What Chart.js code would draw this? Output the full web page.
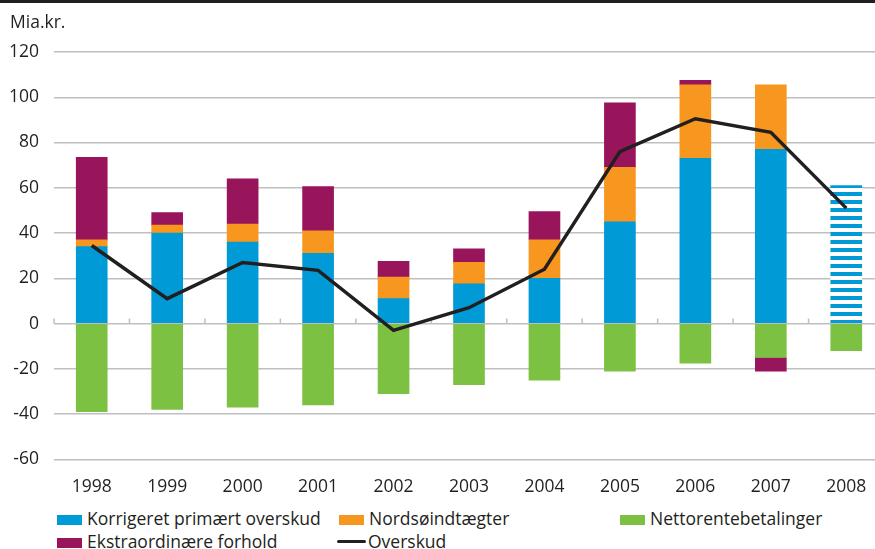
<!DOCTYPE html>
<html lang="da">
<head>
<meta charset="utf-8">
<title>Overskud på de offentlige finanser</title>
<script src="https://cdn.jsdelivr.net/npm/chart.js@4/dist/chart.umd.min.js"></script>
<style>
  html, body { margin: 0; padding: 0; background: #fff; overflow: hidden; }
  body { width: 875px; height: 549px; position: relative; font-family: 'Open Sans', sans-serif; color: #231f20; }
  .top-rule { position: absolute; left: 0; top: 0; width: 875px; height: 3px; background: #231f20; }
  .unit { position: absolute; left: 10px; top: 9px; font-size: 17.5px; line-height: 24px; }
  .chart-wrap { position: absolute; left: 0; top: 0; width: 884px; height: 505px; }
  .legend-item { position: absolute; font-size: 17.5px; line-height: 24px; white-space: nowrap; }
  .legend-swatch { position: absolute; width: 25px; height: 10px; }
  .legend-rule { position: absolute; width: 29px; height: 3px; background: #231f20; border-radius: 2px; }
</style>
</head>
<body>
<div class="top-rule"></div>
<div class="chart-wrap"><canvas id="budget-chart"></canvas></div>
<div class="unit">Mia.kr.</div>
<div id="legend"></div>

<script>
// Years and series, mia. kr.
const years = ['1998', '1999', '2000', '2001', '2002', '2003', '2004', '2005', '2006', '2007', '2008'];
const korrigeret = [34, 40, 36, 31, 11, 17.5, 20, 45, 73, 77, 61];
const nordsoe = [3, 3.5, 8, 10, 9.5, 9.5, 17, 24, 32.5, 28.5, null];
const netto = [-39, -38, -37, -36, -31, -27, -25, -21, -17.5, -15, -12];
const ekstra = [36.5, 5.5, 20, 19.5, 7, 6, 12.5, 28.5, 2, -6, null];
const overskud = [34.5, 11, 27, 23.5, -3, 7, 24, 76, 90.5, 84.5, 51];
const yTicks = [-60, -40, -20, 0, 20, 40, 60, 80, 100, 120];

const BLUE = '#009ad7';
const ORANGE = '#f7971f';
const GREEN = '#7dc142';
const PURPLE = '#98155b';
const INK = '#231f20';
const GRID = '#bfbfbf';
const FONT = { family: 'Open Sans', size: 17.5 };

// 2008 is a forecast: horizontal blue stripes
const stripes = (() => {
  const c = document.createElement('canvas');
  c.width = 8; c.height = 8;
  const g = c.getContext('2d');
  g.fillStyle = '#fff';
  g.fillRect(0, 0, 8, 8);
  g.fillStyle = BLUE;
  g.fillRect(0, 0, 8, 4);
  return g.createPattern(c, 'repeat');
})();

// small upward ticks on the zero line between the years
const zeroTicks = {
  id: 'zeroTicks',
  beforeDatasetsDraw(chart) {
    const { ctx, scales: { x, y } } = chart;
    const y0 = y.getPixelForValue(0);
    ctx.save();
    ctx.strokeStyle = GRID;
    ctx.lineWidth = 1.5;
    ctx.beginPath();
    for (let i = 0; i <= years.length; i++) {
      const px = x.getPixelForValue(i - 0.5);
      ctx.moveTo(px, y0);
      ctx.lineTo(px, y0 - 5);
    }
    ctx.stroke();
    ctx.restore();
  },
};

const bar = (label, data, color) => ({
  type: 'bar',
  label,
  data,
  backgroundColor: color,
  stack: 'bars',
  barThickness: 31,
  order: 1,
});

new Chart(document.getElementById('budget-chart'), {
  data: {
    labels: years,
    datasets: [
      bar('Korrigeret primært overskud', korrigeret, (c) => c.dataIndex === years.length - 1 ? stripes : BLUE),
      bar('Nordsøindtægter', nordsoe, ORANGE),
      bar('Nettorentebetalinger', netto, GREEN),
      bar('Ekstraordinære forhold', ekstra, PURPLE),
      {
        type: 'line',
        label: 'Overskud',
        data: overskud,
        borderColor: INK,
        borderWidth: 3.5,
        pointRadius: 0,
        tension: 0,
        stack: 'line',
        order: 0,
      },
    ],
  },
  options: {
    responsive: true,
    maintainAspectRatio: false,
    animation: false,
    layout: { padding: { top: 52, left: 0, right: 0, bottom: 0 } },
    plugins: { legend: { display: false }, tooltip: { enabled: false } },
    scales: {
      x: {
        stacked: true,
        grid: { display: false, drawTicks: false },
        border: { display: false },
        ticks: { color: INK, font: FONT, padding: 17, maxRotation: 0 },
        afterFit: (s) => { s.height = 45.7; },
      },
      y: {
        stacked: true,
        min: -60,
        max: 120,
        afterBuildTicks: (s) => { s.ticks = yTicks.map(v => ({ value: v })); },
        grid: { color: GRID, lineWidth: 1.5, drawTicks: false },
        border: { display: false },
        ticks: { color: INK, font: FONT, padding: 15 },
        afterFit: (s) => { s.width = 54; },
      },
    },
  },
  plugins: [zeroTicks],
});

// legend laid out in three columns
const legendItems = [
  { label: 'Korrigeret primært overskud', color: BLUE, left: 57, top: 520 },
  { label: 'Nordsøindtægter', color: ORANGE, left: 339, top: 520 },
  { label: 'Nettorentebetalinger', color: GREEN, left: 620, top: 520 },
  { label: 'Ekstraordinære forhold', color: PURPLE, left: 57, top: 543 },
  { label: 'Overskud', line: true, left: 337, top: 543 },
];

document.getElementById('legend').innerHTML = legendItems.map(it => {
  const mark = it.line
    ? `<div class="legend-rule" style="left:${it.left}px;top:${it.top - 3}px"></div>`
    : `<div class="legend-swatch" style="left:${it.left}px;top:${it.top - 5}px;background:${it.color}"></div>`;
  const textLeft = it.left + (it.line ? 31 : 30);
  return `${mark}<div class="legend-item" style="left:${textLeft}px;top:${it.top - 14}px">${it.label}</div>`;
}).join('');
</script>
</body>
</html>
